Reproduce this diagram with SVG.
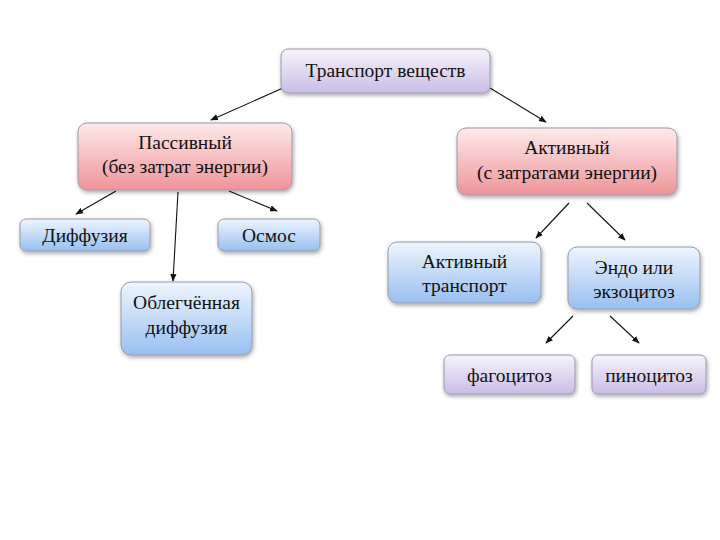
<svg xmlns="http://www.w3.org/2000/svg" width="720" height="540" viewBox="0 0 720 540">
<defs>
<linearGradient id="gPurple" x1="0" y1="0" x2="0" y2="1"><stop offset="0" stop-color="#f6f3fc"/><stop offset="1" stop-color="#cabde6"/></linearGradient>
<linearGradient id="gRed" x1="0" y1="0" x2="0" y2="1"><stop offset="0" stop-color="#feeaea"/><stop offset="1" stop-color="#ee9499"/></linearGradient>
<linearGradient id="gBlue" x1="0" y1="0" x2="0" y2="1"><stop offset="0" stop-color="#eef5fe"/><stop offset="1" stop-color="#98bff0"/></linearGradient>
<filter id="sh" x="-10%" y="-20%" width="130%" height="150%"><feGaussianBlur in="SourceAlpha" stdDeviation="2"/><feOffset dx="1" dy="2"/><feComponentTransfer><feFuncA type="linear" slope="0.35"/></feComponentTransfer><feMerge><feMergeNode/><feMergeNode in="SourceGraphic"/></feMerge></filter>
<marker id="arr" viewBox="0 0 10 10" refX="9" refY="5" markerWidth="7" markerHeight="7" orient="auto-start-reverse"><path d="M0,1 L10,5 L0,9 z" fill="#111"/></marker>
</defs>
<style>
.box{stroke:#9a9aa8;stroke-width:1;filter:url(#sh)}
.p{fill:url(#gPurple)}
.r{fill:url(#gRed)}
.b{fill:url(#gBlue)}
text{font-family:"Liberation Serif","Times New Roman",serif;font-size:19.5px;fill:#111;text-anchor:middle}
.c line{stroke:#111;stroke-width:1.1;marker-end:url(#arr)}
</style>
<rect width="720" height="540" fill="#fff"/>
<g class="c" id="connectors">
<line x1="283" y1="88" x2="211" y2="120"/>
<line x1="490" y1="88" x2="546" y2="122"/>
<line x1="116" y1="191" x2="76" y2="214"/>
<line x1="178" y1="192" x2="173" y2="281"/>
<line x1="229" y1="191" x2="277" y2="211"/>
<line x1="569" y1="203" x2="536" y2="238"/>
<line x1="587" y1="203" x2="625" y2="240"/>
<line x1="573" y1="316" x2="546" y2="343"/>
<line x1="610" y1="316" x2="639" y2="343"/>
</g>
<g id="n_root"><rect class="box p" x="281" y="49" width="209" height="44" rx="7"/><text x="385.5" y="77">Транспорт веществ</text></g>
<g id="n_passive"><rect class="box r" x="78" y="123" width="214" height="67" rx="9"/><text x="185" y="149">Пассивный</text><text x="185" y="173">(без затрат энергии)</text></g>
<g id="n_active"><rect class="box r" x="457" y="128" width="220" height="67" rx="9"/><text x="567" y="154">Активный</text><text x="567" y="179">(с затратами энергии)</text></g>
<g id="n_diff"><rect class="box b" x="20" y="219" width="130" height="32" rx="6"/><text x="85" y="242">Диффузия</text></g>
<g id="n_osmos"><rect class="box b" x="218" y="219" width="102" height="32" rx="6"/><text x="269" y="242">Осмос</text></g>
<g id="n_facil"><rect class="box b" x="121" y="282" width="131" height="73" rx="10"/><text x="186.5" y="309">Облегчённая</text><text x="186.5" y="334">диффузия</text></g>
<g id="n_acttr"><rect class="box b" x="388" y="242" width="153" height="61" rx="9"/><text x="464.5" y="268">Активный</text><text x="464.5" y="292">транспорт</text></g>
<g id="n_endo"><rect class="box b" x="568" y="247" width="132" height="62" rx="9"/><text x="634" y="274">Эндо или</text><text x="634" y="298">экзоцитоз</text></g>
<g id="n_phago"><rect class="box p" x="444" y="355" width="131" height="39" rx="6"/><text x="509.5" y="382">фагоцитоз</text></g>
<g id="n_pino"><rect class="box p" x="592" y="355" width="114" height="39" rx="6"/><text x="649" y="382">пиноцитоз</text></g>
</svg>
